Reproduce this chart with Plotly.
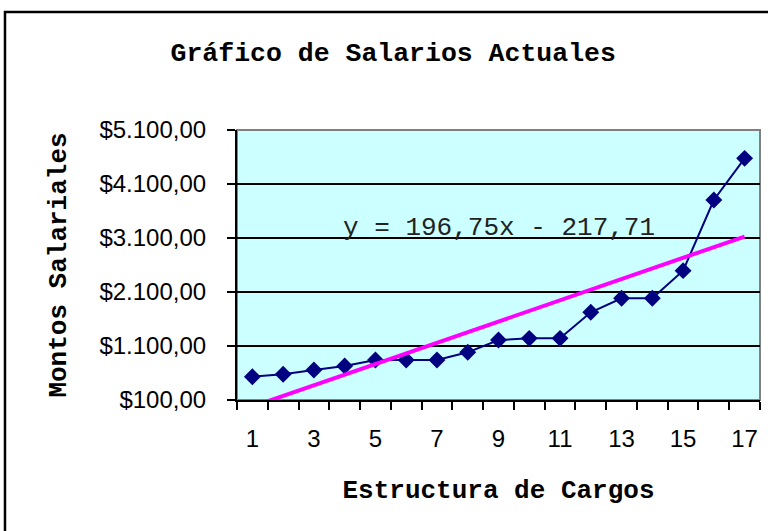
import plotly.graph_objects as go

cargos = list(range(1, 18))
salarios = [531, 576, 656, 730, 841, 841, 841, 983, 1211, 1242, 1242, 1724, 1983, 1983, 2495, 3804, 4575]
trend_slope = 196.75
trend_intercept = -217.71
y_ticks = [100, 1100, 2100, 3100, 4100, 5100]
y_ticktext = ["$100,00", "$1.100,00", "$2.100,00", "$3.100,00", "$4.100,00", "$5.100,00"]
x_ticks = [1, 3, 5, 7, 9, 11, 13, 15, 17]
title_text = "Gráfico de Salarios Actuales"
x_title = "Estructura de Cargos"
y_title = "Montos Salariales"
eq_text = "y = 196,75x - 217,71"

trend_x = [cargos[0], cargos[-1]]
trend_y = [trend_slope * v + trend_intercept for v in trend_x]

mono = "Liberation Mono, Courier New, monospace"
sans = "Liberation Sans, Arial, sans-serif"

fig = go.Figure()
fig.add_trace(go.Scatter(
    x=cargos, y=salarios, mode="lines+markers",
    line=dict(color="#000080", width=2),
    marker=dict(symbol="diamond", size=13, color="#000080"),
    showlegend=False, cliponaxis=False,
))
fig.add_trace(go.Scatter(
    x=trend_x, y=trend_y, mode="lines",
    line=dict(color="#FF00FF", width=4),
    showlegend=False,
))

fig.update_layout(
    width=768, height=531,
    margin=dict(l=237, r=8, t=130, b=131),
    paper_bgcolor="white",
    plot_bgcolor="#CCFFFF",
    title=dict(text="<b>" + title_text + "</b>", x=0.512, xanchor="center", y=0.903, yanchor="middle",
               font=dict(family=mono, size=26.5, color="black")),
    xaxis=dict(
        range=[0.5, 17.5], tickmode="array", tickvals=x_ticks, ticktext=[str(v) for v in x_ticks],
        ticks="", showgrid=False, zeroline=False,
        showline=True, linecolor="black", linewidth=2,
        tickfont=dict(family=sans, size=24, color="black"),
        ticklabelstandoff=16,
        minor=dict(tick0=0.5, dtick=1, ticks="outside", ticklen=8, tickcolor="black", tickwidth=2, showgrid=False),
        title=dict(text="<b>" + x_title + "</b>", font=dict(family=mono, size=26, color="black"), standoff=29),
    ),
    yaxis=dict(
        range=[100, 5100], tickmode="array", tickvals=y_ticks, ticktext=y_ticktext,
        ticks="outside", ticklen=8, tickcolor="black", tickwidth=2,
        showgrid=True, gridcolor="black", gridwidth=2, zeroline=False,
        showline=True, linecolor="black", linewidth=2,
        tickfont=dict(family=sans, size=24, color="black"),
        ticklabelstandoff=16,
        title=dict(text="<b>" + y_title + "</b>", font=dict(family=mono, size=26, color="black"), standoff=25),
    ),
    shapes=[
        dict(type="rect", xref="paper", yref="paper", x0=0, x1=1, y0=0, y1=1,
             line=dict(color="#808080", width=2), layer="below"),
        dict(type="rect", xref="paper", yref="paper", x0=-0.4436, x1=1.05, y0=-0.52, y1=1.437,
             line=dict(color="black", width=2.5), layer="above"),
    ],
    annotations=[
        dict(text=eq_text, x=9.0, y=3290, xref="x", yref="y", showarrow=False,
             font=dict(family=mono, size=26, color="#222222")),
    ],
)

fig.write_html("out.html", config={"displayModeBar": False},
               post_script="document.body.style.margin='0';document.body.style.overflow='hidden';")
